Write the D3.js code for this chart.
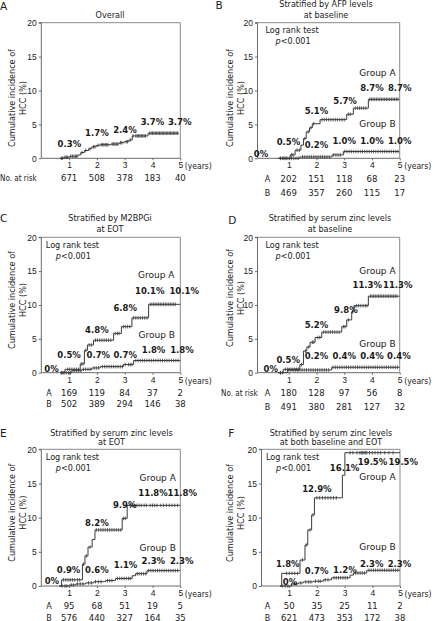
<!DOCTYPE html>
<html><head><meta charset="utf-8">
<script src="https://cdn.jsdelivr.net/npm/d3@7"></script>
<style>body{margin:0;background:#fff}svg{display:block;font-family:"DejaVu Sans",Verdana,sans-serif}
.cd{font-family:"DejaVu Sans Condensed","DejaVu Sans",sans-serif;font-stretch:condensed}</style>
</head><body><svg id="c" width="435" height="621"></svg>
<script>
// ---------------- DATA ----------------
const yearTicks = [1, 2, 3, 4, 5];
const yTicks = [0, 5, 10, 15, 20];

// Step curves: [years, cumulative incidence %]
const overallSteps = [[0.67,0],[0.8,0.15],[1.02,0.3],[1.32,0.5],[1.42,0.85],[1.55,1.15],[1.7,1.4],[1.82,1.7],[1.98,1.9],[2.1,2.0],[2.5,2.1],[2.8,2.3],[2.98,2.45],[3.15,2.7],[3.27,3.3],[3.84,3.7],[4.95,3.7]];
const afpStepsA = [[0.63,0],[1.05,0.5],[1.23,1.2],[1.44,1.95],[1.53,2.9],[1.63,3.9],[1.75,4.5],[1.85,5.1],[2.13,5.7],[3.09,6.5],[3.33,7.4],[3.87,8.7],[4.98,8.7]];
const afpStepsB = [[0.63,0],[1.4,0.2],[2.56,0.5],[2.97,1.0],[4.98,1.0]];
const m2bpStepsA = [[0.68,0],[0.85,0.5],[1.4,1.3],[1.55,3.3],[1.66,4.1],[1.88,4.8],[2.6,5.8],[2.88,6.8],[3.26,8.1],[3.86,10.1],[5.0,10.1]];
const m2bpStepsB = [[0.68,0],[1.1,0.3],[1.46,0.5],[1.82,0.7],[2.12,0.9],[2.95,1.2],[3.32,1.8],[5.0,1.8]];
const zincBaseStepsA = [[0.62,0],[0.8,0.5],[1.4,1.2],[1.53,3.2],[1.65,3.8],[1.77,4.5],[1.95,5.2],[2.19,6.0],[2.91,6.8],[3.09,7.8],[3.27,9.0],[3.35,9.9],[3.87,11.3],[5.0,11.3]];
const zincBaseStepsB = [[0.62,0],[0.95,0.4],[2.55,0.8],[5.0,0.8]];
const zincEotStepsA = [[0.65,0],[0.73,0.9],[1.48,3.2],[1.57,4.4],[1.68,5.7],[1.83,6.8],[1.93,8.2],[2.91,9.9],[3.09,11.8],[5.0,11.8]];
const zincEotStepsB = [[0.65,0],[1.0,0.15],[1.24,0.3],[1.6,0.45],[1.89,0.63],[2.31,0.8],[2.67,1.1],[3.27,1.5],[3.39,1.8],[3.8,2.25],[5.0,2.25]];
const zincBothStepsA = [[0.67,0],[0.73,1.85],[1.39,3.8],[1.57,6.0],[1.67,8.2],[1.81,10.4],[1.91,12.9],[2.92,16.2],[3.01,19.5],[5.0,19.5]];
const zincBothStepsB = [[0.67,0],[1.09,0.3],[1.33,0.45],[1.51,0.6],[1.87,0.7],[2.23,0.9],[2.53,1.2],[3.2,1.6],[3.32,1.9],[3.8,2.3],[5.0,2.3]];

// Censoring times (years)
const overallCens = [0.72,0.76,0.85,0.9,0.95,1.06,1.12,1.18,1.24,1.28,1.46,1.6,1.75,1.88,1.93,2.04,2.15,2.2,2.25,2.3,2.35,2.4,2.55,2.6,2.65,2.7,2.75,2.85,2.9,3.05,3.1,3.2,3.3,3.4,3.45,3.5,3.55,3.6,3.65,3.7,3.75,3.9,3.95,4.0,4.05,4.1,4.15,4.2,4.25,4.3,4.35,4.4,4.45,4.5,4.55,4.6,4.65,4.7,4.75,4.8,4.85,4.9];
const afpCensA = [0.7,0.8,0.9,1.1,1.15,1.3,1.38,1.58,1.7,1.8,1.9,2.2,2.28,2.36,2.44,2.52,2.6,2.68,2.76,2.84,2.92,3.0,3.15,3.22,3.4,3.48,3.55,3.62,3.7,3.78,3.92,3.98,4.04,4.1,4.16,4.22,4.28,4.34,4.4,4.46,4.52,4.58,4.64,4.7,4.76,4.82,4.88,4.94];
const afpCensB = [0.7,0.78,0.86,0.94,1.02,1.1,1.18,1.26,1.34,1.5,1.58,1.66,1.74,1.82,1.9,1.98,2.06,2.14,2.22,2.3,2.38,2.46,2.62,2.7,2.78,2.86,3.02,3.1,3.18,3.26,3.34,3.42,3.5,3.58,3.66,3.74,3.82,3.9,3.98,4.06,4.14,4.22,4.3,4.38,4.46,4.54,4.62,4.7,4.78,4.86,4.94];
const m2bpCensA = [0.72,0.78,0.95,1.02,1.1,1.18,1.26,1.34,1.44,1.5,1.6,1.72,1.8,1.95,2.02,2.1,2.18,2.26,2.34,2.42,2.5,2.66,2.74,2.8,2.95,3.02,3.1,3.18,3.32,3.4,3.48,3.56,3.64,3.72,3.8,3.92,3.98,4.04,4.1,4.16,4.22,4.28,4.34,4.4,4.46,4.52,4.58,4.64,4.7,4.76,4.82];
const m2bpCensB = [0.74,0.82,0.9,0.98,1.05,1.18,1.26,1.34,1.42,1.52,1.6,1.68,1.76,1.9,1.98,2.06,2.2,2.28,2.36,2.44,2.52,2.6,2.68,2.76,2.84,2.92,3.02,3.14,3.2,3.26,3.4,3.48,3.56,3.64,3.72,3.8,3.88,3.96,4.04,4.12,4.2,4.28,4.36,4.44,4.52,4.6,4.68,4.76,4.84,4.92];
const zincBaseCensA = [0.7,0.88,0.96,1.04,1.12,1.2,1.28,1.35,1.46,1.6,1.72,1.85,1.9,2.05,2.12,2.26,2.34,2.42,2.5,2.58,2.66,2.74,2.82,2.98,3.03,3.15,3.3,3.45,3.52,3.6,3.68,3.76,3.82,3.94,4.0,4.06,4.12,4.18,4.24,4.3,4.36,4.42,4.48,4.54,4.6,4.66,4.72,4.78,4.84,4.9];
const zincBaseCensB = [0.7,0.78,1.0,1.08,1.16,1.24,1.32,1.4,1.48,1.56,1.64,1.72,1.8,1.88,1.96,2.04,2.12,2.2,2.28,2.36,2.44,2.6,2.68,2.76,2.84,2.92,3.0,3.08,3.16,3.24,3.32,3.4,3.48,3.56,3.64,3.72,3.8,3.88,3.96,4.04,4.12,4.2,4.28,4.36,4.44,4.52,4.6,4.68,4.76,4.84,4.92];
const zincEotCensA = [0.8,0.88,0.96,1.04,1.12,1.2,1.3,1.38,1.52,1.62,1.75,1.98,2.06,2.14,2.22,2.3,2.38,2.46,2.54,2.62,2.7,2.78,2.86,2.96,3.02,3.2,3.28,3.36,3.44,3.52,3.6,3.7,3.78,3.92,4.0,4.08,4.16,4.3,4.4,4.5,4.6,4.7,4.8,4.9];
const zincEotCensB = [0.75,0.85,0.92,1.08,1.16,1.3,1.4,1.5,1.7,1.8,1.95,2.05,2.15,2.38,2.46,2.54,2.74,2.82,2.9,2.98,3.06,3.14,3.2,3.45,3.52,3.6,3.68,3.76,3.86,3.94,4.02,4.1,4.18,4.26,4.34,4.42,4.5,4.58,4.66,4.74,4.82,4.9];
const zincBothCensA = [0.9,1.0,1.1,1.2,1.3,1.48,1.62,1.75,1.86,2.0,2.1,2.2,2.3,2.4,2.5,2.6,2.7,3.2,3.3,3.45,3.55,3.6,3.65,3.7,3.75,3.8,3.9,4.0,4.1,4.2,4.3,4.45,4.6,4.75];
const zincBothCensB = [0.75,0.85,0.95,1.18,1.25,1.42,1.6,1.7,1.78,1.95,2.05,2.12,2.3,2.4,2.62,2.7,2.78,2.86,2.94,3.02,3.1,3.4,3.48,3.56,3.64,3.72,3.88,3.96,4.04,4.12,4.2,4.28,4.36,4.44,4.52,4.6,4.68,4.76,4.84,4.92];

// Percent annotations
const overallPct = [0.3, 1.7, 2.4, 3.7, 3.7];
const afpPctA = [0.5, 5.1, 5.7, 8.7, 8.7];
const afpPctB = [0, 0.2, 1.0, 1.0, 1.0];
const m2bpPctA = [0.5, 4.8, 6.8, 10.1, 10.1];
const m2bpPctB = [0, 0.7, 0.7, 1.8, 1.8];
const zincBasePctA = [0.5, 5.2, 9.8, 11.3, 11.3];
const zincBasePctB = [0, 0.2, 0.4, 0.4, 0.4];
const zincEotPctA = [0.9, 8.2, 9.9, 11.8, 11.8];
const zincEotPctB = [0, 0.6, 1.1, 2.3, 2.3];
const zincBothPctA = [1.8, 12.9, 16.1, 19.5, 19.5];
const zincBothPctB = [0, 0.7, 1.2, 2.3, 2.3];

// Number at risk
const overallRisk = [671, 508, 378, 183, 40];
const afpRiskA = [202, 151, 118, 68, 23];
const afpRiskB = [469, 357, 260, 115, 17];
const m2bpRiskA = [169, 119, 84, 37, 2];
const m2bpRiskB = [502, 389, 294, 146, 38];
const zincBaseRiskA = [180, 128, 97, 56, 8];
const zincBaseRiskB = [491, 380, 281, 127, 32];
const zincEotRiskA = [95, 68, 51, 19, 5];
const zincEotRiskB = [576, 440, 327, 164, 35];
const zincBothRiskA = [50, 35, 25, 11, 2];
const zincBothRiskB = [621, 473, 353, 172, 38];

// ---------------- LAYOUT ----------------
const panels = [
 {letter:"A", letterXY:[0,9.5], title:["Overall"], titleX:110, titleY:[17.5],
  xr:[41.3,180.3], boxL:41.3, yr:[158.3,22.7], ylabX:[15,25.5], ylabCY:98,
  curves:[{steps:overallSteps, cens:overallCens}],
  pct:[{vals:overallPct, pos:[[1.01,1.71],[2.0,3.29],[3.01,3.69],[4.0,4.91],[4.98,4.91]]}],
  groups:null, logrank:false,
  risk:{prefix:"No. at risk", prefixX:0, rowX:null, rows:[{lab:"", vals:overallRisk, y:180.5}]}},
 {letter:"B", letterXY:[215.5,9], title:["Stratified by AFP levels","at baseline"], titleX:326, titleY:[7,17.5],
  xr:[261,399.7], boxL:257.5, yr:[158.3,22.7], ylabX:[233,243.5], ylabCY:98,
  curves:[{steps:afpStepsA, cens:afpCensA},{steps:afpStepsB, cens:afpCensB}],
  pct:[{vals:afpPctA, pos:[[0.99,1.96],[2.0,6.6],[3.03,8.0],[4.0,9.97],[5.0,9.97]]},
       {vals:afpPctB, pos:[[0.0,0.24],[2.0,1.47],[3.0,2.1],[4.0,2.1],[5.0,2.1]]}],
  groups:[[3.54,12.1],[3.54,4.66]], logrank:true,
  risk:{prefix:null, rowX:267.5, rows:[{lab:"A", vals:afpRiskA, y:182},{lab:"B", vals:afpRiskB, y:195.5}]}},
 {letter:"C", letterXY:[0,221.7], title:["Stratified by M2BPGi","at EOT"], titleX:110, titleY:[220.7,231.5],
  xr:[41.3,180.3], boxL:41.3, yr:[372.7,237.3], ylabX:[15,25.5], ylabCY:300,
  curves:[{steps:m2bpStepsA, cens:m2bpCensA},{steps:m2bpStepsB, cens:m2bpCensB}],
  pct:[{vals:m2bpPctA, pos:[[1.0,2.2],[2.0,5.9],[3.02,9.1],[3.9,11.6],[5.14,11.6]]},
       {vals:m2bpPctB, pos:[[0.37,0.15],[2.05,2.2],[3.02,2.2],[4.04,2.86],[5.06,2.86]]}],
  groups:[[3.48,14.0],[3.5,5.17]], logrank:true,
  risk:{prefix:null, rowX:49, rows:[{lab:"A", vals:m2bpRiskA, y:396},{lab:"B", vals:m2bpRiskB, y:407}]}},
 {letter:"D", letterXY:[228.3,224.3], title:["Stratified by serum zinc levels","at baseline"], titleX:330, titleY:[221,231.5],
  xr:[261,399.7], boxL:257.5, yr:[372.7,237.3], ylabX:[233,243.5], ylabCY:298,
  curves:[{steps:zincBaseStepsA, cens:zincBaseCensA},{steps:zincBaseStepsB, cens:zincBaseCensB}],
  pct:[{vals:zincBasePctA, pos:[[0.98,1.48],[2.0,6.56],[3.06,8.77],[3.83,12.47],[4.93,12.47]]},
       {vals:zincBasePctB, pos:[[0.35,0.15],[2.0,1.97],[3.0,1.97],[4.0,1.97],[4.97,1.97]]}],
  groups:[[3.54,14.6],[3.54,3.84]], logrank:true,
  risk:{prefix:"No. at risk", prefixX:221, rowX:267.5, rows:[{lab:"A", vals:zincBaseRiskA, y:396.3},{lab:"B", vals:zincBaseRiskB, y:409.7}]}},
 {letter:"E", letterXY:[0,437.3], title:["Stratified by serum zinc levels","at EOT"], titleX:111.5, titleY:[436.3,445],
  xr:[41.3,180.3], boxL:41.3, yr:[586,449.3], ylabX:[15,25.5], ylabCY:512.7,
  curves:[{steps:zincEotStepsA, cens:zincEotCensA},{steps:zincEotStepsB, cens:zincEotCensB}],
  pct:[{vals:zincEotPctA, pos:[[0.98,1.95],[2.0,8.78],[3.0,11.47],[4.02,13.2],[5.07,13.2]]},
       {vals:zincEotPctB, pos:[[0.38,0.3],[2.0,1.95],[3.03,2.6],[4.03,3.22],[5.05,3.22]]}],
  groups:[[3.53,15.4],[3.53,5.12]], logrank:true,
  risk:{prefix:null, rowX:49, rows:[{lab:"A", vals:zincEotRiskA, y:608.5},{lab:"B", vals:zincEotRiskB, y:620.5}]}},
 {letter:"F", letterXY:[228.3,437.3], title:["Stratified by serum zinc levels","at both baseline and EOT"], titleX:331, titleY:[436.3,445],
  xr:[261.5,400], boxL:261.5, yr:[586,449.3], ylabX:[233,243.5], ylabCY:513,
  curves:[{steps:zincBothStepsA, cens:zincBothCensA},{steps:zincBothStepsB, cens:zincBothCensB}],
  pct:[{vals:zincBothPctA, pos:[[0.95,2.83],[2.0,13.8],[3.0,16.8],[4.01,17.7],[5.12,17.7]]},
       {vals:zincBothPctB, pos:[[1.03,0.15],[1.99,1.7],[3.01,1.95],[3.98,2.83],[4.98,2.83]]}],
  groups:[[3.53,15.5],[3.53,5.27]], logrank:true,
  risk:{prefix:null, rowX:267.5, rows:[{lab:"A", vals:zincBothRiskA, y:608.5},{lab:"B", vals:zincBothRiskB, y:620.5}]}}
];

// ---------------- DRAW ----------------
const svg = d3.select("#c");
const TXT = "#1a1a1a", AX = "#6a6a6a", BOX = "#8a8a8a", CURVE = "#3a3a3a";
const fmt = v => v === 0 ? "0%" : v.toFixed(1) + "%";

function valueAt(steps, t) {
  let v = steps[0][1];
  for (const s of steps) { if (s[0] <= t) v = s[1]; else break; }
  return v;
}

panels.forEach(p => {
  const g = svg.append("g");
  const x = d3.scaleLinear().domain([0, 5]).range(p.xr);
  const y = d3.scaleLinear().domain([0, 20]).range(p.yr);
  const right = x(5), top = y(20), bottom = y(0);

  // panel letter
  g.append("text").attr("x", p.letterXY[0]).attr("y", p.letterXY[1])
    .attr("font-size", 10.5).attr("fill", TXT).text(p.letter);
  // title
  p.title.forEach((t, i) => g.append("text").attr("class", "cd").attr("x", p.titleX).attr("y", p.titleY[i])
    .attr("text-anchor", "middle").attr("font-size", 9).attr("fill", TXT).text(t));

  // box (top & right lighter)
  g.append("path").attr("d", `M${p.boxL},${top}H${right}V${bottom}`)
    .attr("fill", "none").attr("stroke", BOX).attr("stroke-width", 1);

  // y axis
  const yAxis = d3.axisLeft(y).tickValues(yTicks).tickSize(2.5).tickPadding(2);
  const ya = g.append("g").attr("transform", `translate(${p.boxL},0)`).call(yAxis);
  ya.select(".domain").attr("stroke", AX).attr("d", `M-2.5,${top}H0V${bottom}`);
  ya.selectAll(".tick line").attr("stroke", AX);
  ya.selectAll("text").attr("font-size", 8.5).attr("fill", TXT).attr("font-family", null);

  // x axis
  const xAxis = d3.axisBottom(x).tickValues(yearTicks).tickFormat(d3.format("d")).tickSize(2).tickPadding(2);
  const xa = g.append("g").attr("transform", `translate(0,${bottom})`).call(xAxis);
  xa.select(".domain").attr("stroke", AX).attr("d", `M${p.boxL},0H${right}`);
  xa.selectAll(".tick line").attr("stroke", AX);
  xa.selectAll("text").attr("font-size", 8.5).attr("fill", TXT).attr("font-family", null);
  g.append("text").attr("class", "cd").attr("x", right + 4.5).attr("y", bottom + 10.8)
    .attr("font-size", 8.5).attr("fill", TXT).text("(years)");

  // y label
  ["Cumulative incidence of", "HCC (%)"].forEach((t, i) =>
    g.append("text").attr("class", "cd").attr("transform", `translate(${p.ylabX[i]},${p.ylabCY}) rotate(-90)`)
      .attr("text-anchor", "middle").attr("font-size", 9).attr("fill", TXT).text(t));

  // curves
  const line = d3.line().x(d => x(d[0])).y(d => y(d[1])).curve(d3.curveStepAfter);
  p.curves.forEach(c => {
    g.append("path").datum(c.steps).attr("d", line)
      .attr("fill", "none").attr("stroke", CURVE).attr("stroke-width", 1);
    g.selectAll(null).data(c.cens).enter().append("line")
      .attr("x1", d => x(d)).attr("x2", d => x(d))
      .attr("y1", d => y(valueAt(c.steps, d)) - 1.8)
      .attr("y2", d => y(valueAt(c.steps, d)) + 1.8)
      .attr("stroke", CURVE).attr("stroke-width", 0.8);
  });

  // percent labels
  p.pct.forEach(set => set.vals.forEach((v, i) =>
    g.append("text").attr("x", x(set.pos[i][0])).attr("y", y(set.pos[i][1]))
      .attr("text-anchor", "middle").attr("font-size", 8.5).attr("font-weight", "bold")
      .attr("fill", TXT).text(fmt(v))));

  // group labels
  if (p.groups) ["Group A", "Group B"].forEach((t, i) =>
    g.append("text").attr("x", x(p.groups[i][0])).attr("y", y(p.groups[i][1]))
      .attr("font-size", 9).attr("fill", TXT).text(t));

  // log rank
  if (p.logrank) {
    g.append("text").attr("class", "cd").attr("x", x(0) + 4.5).attr("y", top + 10.7)
      .attr("font-size", 9).attr("fill", TXT).text("Log rank test");
    const t2 = g.append("text").attr("class", "cd").attr("x", x(0) + 14.5).attr("y", top + 21.3)
      .attr("font-size", 9).attr("fill", TXT);
    t2.append("tspan").attr("font-style", "italic").text("p");
    t2.append("tspan").text("<0.001");
  }

  // risk table
  const r = p.risk;
  if (r.prefix) g.append("text").attr("class", "cd").attr("x", r.prefixX).attr("y", r.rows[0].y)
    .attr("font-size", 8).attr("fill", TXT).text(r.prefix);
  r.rows.forEach(row => {
    if (row.lab) g.append("text").attr("x", r.rowX).attr("y", row.y)
      .attr("text-anchor", "middle").attr("font-size", 8).attr("fill", TXT).text(row.lab);
    row.vals.forEach((v, i) => g.append("text").attr("x", x(yearTicks[i])).attr("y", row.y)
      .attr("text-anchor", "middle").attr("font-size", 8.5).attr("fill", TXT).text(v));
  });
});
</script></body></html>
